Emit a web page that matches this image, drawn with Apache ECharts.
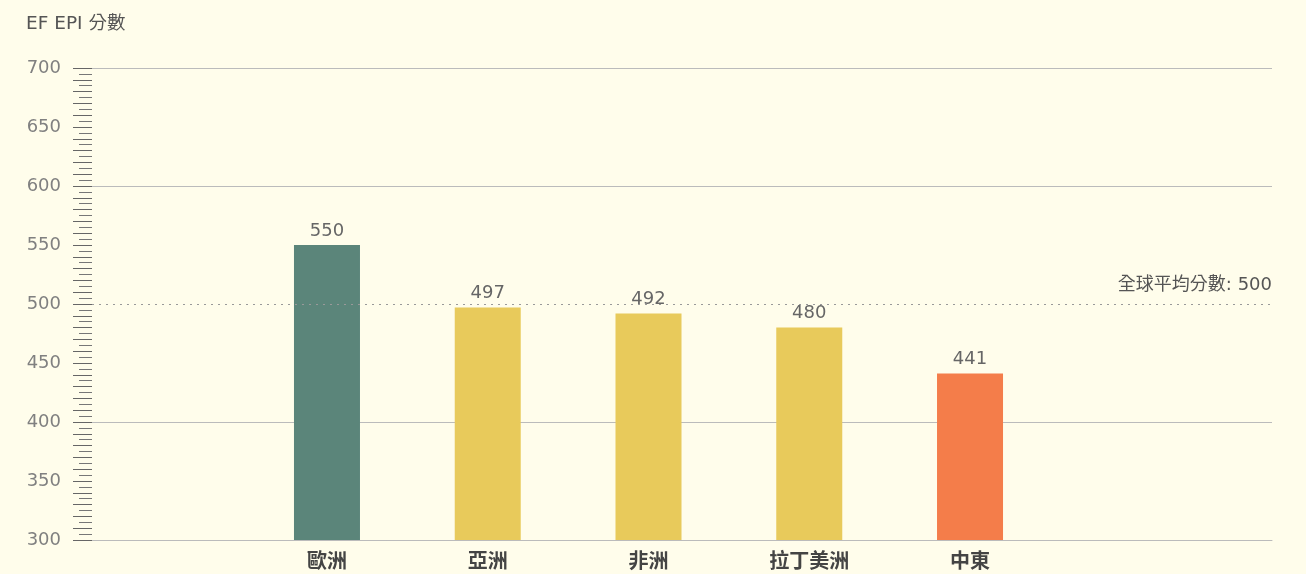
<!DOCTYPE html>
<html><head><meta charset="utf-8">
<script src="https://cdn.jsdelivr.net/npm/echarts@6/dist/echarts.min.js"></script>
<style>html,body{margin:0;padding:0;background:#FFFDEB;}#c{width:1306px;height:574px;}</style>
</head><body><div id="c"></div>
<script>
const categories = ['歐洲', '亞洲', '非洲', '拉丁美洲', '中東'];
const scores = [550, 497, 492, 480, 441];
const barColors = ['#5B857A', '#E8CA5B', '#E8CA5B', '#E8CA5B', '#F47D4A'];
const globalAverage = 500;
const globalLabel = '全球平均分數: ';
const yTitle = 'EF EPI 分數';

const FONT = "'DejaVu Sans','Noto Sans CJK TC',sans-serif";
const chart = echarts.init(document.getElementById('c'));
const gridLineColors = ['#bbb','transparent','#bbb','transparent','transparent','transparent','#bbb','transparent','#bbb'];
chart.setOption({
  backgroundColor: '#FFFDEB',
  animation: false,
  title: { text: yTitle, left: 21, top: 10, textStyle: { fontFamily: FONT, fontSize: 18.5, fontWeight: 'normal', color: '#555' } },
  grid: [
    { left: 92, right: 34, top: 68, bottom: 34 },
    { left: 246.6, right: 255.6, top: 68, bottom: 34 }
  ],
  xAxis: [
    { type: 'category', gridIndex: 0, data: [''], axisLine: { show: true, lineStyle: { color: '#bbb', width: 1 } }, axisTick: { show: false }, axisLabel: { show: false } },
    { type: 'category', gridIndex: 1, data: categories, axisLine: { show: false }, axisTick: { show: false },
      axisLabel: { margin: 13, fontFamily: FONT, fontSize: 20, fontWeight: 'bold', color: '#444' } }
  ],
  yAxis: [
    { type: 'value', gridIndex: 0, min: 300, max: 700, interval: 50,
      axisLine: { show: false },
      axisTick: { show: true, length: 19, lineStyle: { color: '#666' } },
      minorTick: { show: true, splitNumber: 10, length: 13, lineStyle: { color: '#777' } },
      axisLabel: { margin: 31, fontFamily: FONT, fontSize: 18, color: '#808080' },
      splitLine: { show: true, lineStyle: { color: gridLineColors, width: 1 } } },
    { type: 'value', gridIndex: 0, min: 300, max: 700, interval: 10, position: 'left',
      axisLine: { show: false }, axisTick: { show: true, length: 19, lineStyle: { color: '#666' } },
      axisLabel: { show: false }, splitLine: { show: false } },
    { type: 'value', gridIndex: 1, min: 300, max: 700, show: false, splitLine: { show: false } }
  ],
  series: [
    { type: 'line', xAxisIndex: 0, yAxisIndex: 0, data: [null], symbol: 'none',
      markLine: { silent: true, symbol: 'none',
        lineStyle: { type: [2, 5], color: '#999', width: 1.2 },
        label: { show: true, position: 'insideEndTop', formatter: globalLabel + globalAverage, fontFamily: FONT, fontSize: 18, color: '#555', distance: [0, 10] },
        data: [{ yAxis: globalAverage }] } },
    { type: 'bar', xAxisIndex: 1, yAxisIndex: 2, barWidth: 66,
      data: scores.map((v, i) => ({ value: v, itemStyle: { color: barColors[i] } })),
      label: { show: true, position: 'top', distance: 5, fontFamily: FONT, fontSize: 18, color: '#666' } }
  ]
});
</script></body></html>
